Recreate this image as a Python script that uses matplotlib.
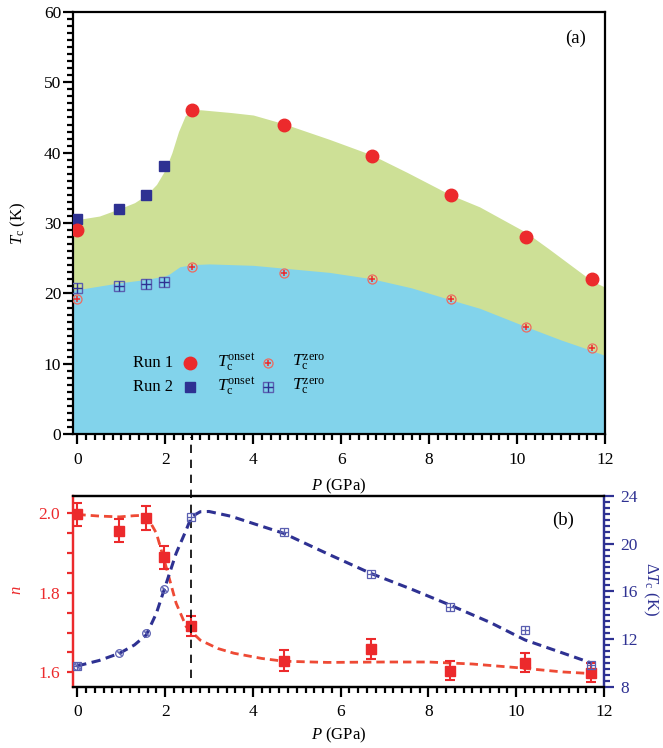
import matplotlib
matplotlib.use("Agg")
import matplotlib.pyplot as plt
from matplotlib.ticker import MultipleLocator, FormatStrFormatter


# --- data ---
P_run1 = [0.0, 2.6, 4.7, 6.7, 8.5, 10.2, 11.7]
Tonset_run1 = [29.0, 46.1, 44.0, 39.6, 34.0, 28.0, 22.0]
Tzero_run1 = [19.2, 23.7, 22.9, 22.0, 19.2, 15.2, 12.2]

P_run2 = [0.0, 0.94, 1.57, 1.98]
Tonset_run2 = [30.6, 32.0, 34.0, 38.1]
Tzero_run2 = [20.8, 21.1, 21.4, 21.7]

# shaded phase boundaries (onset / zero)
P_onset_edge = [-0.1, 0.5, 0.94, 1.3, 1.57, 1.8, 2.0, 2.15, 2.3, 2.45, 2.6, 2.8,
                3.5, 4.0, 4.7, 5.73, 6.69, 7.5, 8.49, 9.15, 10.2, 10.71, 11.7, 12.0]
T_onset_edge = [30.4, 31.0, 32.0, 32.9, 34.0, 35.5, 37.6, 40.0, 43.0, 45.2, 46.0, 46.1,
                45.7, 45.35, 44.1, 41.9, 39.7, 37.2, 34.0, 32.3, 28.7, 26.4, 21.8, 20.9]
P_zero_edge = [-0.1, 0.94, 1.57, 2.0, 2.1, 2.33, 2.6, 3.0, 4.0, 4.69, 5.73, 6.69,
               7.6, 8.49, 9.15, 10.2, 11.0, 11.7, 12.0]
T_zero_edge = [20.45, 21.5, 22.0, 22.5, 22.8, 23.8, 24.1, 24.2, 24.0, 23.6, 23.0, 22.1,
               20.8, 19.1, 17.9, 15.3, 13.4, 11.9, 11.2]

# panel (b)
P_n = [0.0, 0.94, 1.57, 1.98, 2.6, 4.7, 6.7, 8.5, 10.2, 11.7]
n_vals = [1.997, 1.956, 1.989, 1.890, 1.717, 1.629, 1.659, 1.604, 1.624, 1.599]
n_err = [0.029, 0.029, 0.030, 0.029, 0.025, 0.026, 0.026, 0.024, 0.024, 0.024]

dT_run1 = [9.76, 22.26, 20.95, 17.43, 14.71, 12.76, 9.8]
dT_run2 = [9.76, 10.83, 12.48, 16.17]

P_nfit = [0.0, 0.5, 0.96, 1.3, 1.57, 1.8, 2.0, 2.25, 2.48, 2.8, 3.2, 3.57, 4.2, 4.7,
          5.7, 7.0, 8.0, 9.0, 10.0, 11.06, 11.7]
n_fit = [1.997, 1.993, 1.991, 1.994, 1.995, 1.95, 1.874, 1.774, 1.715, 1.681, 1.66,
         1.648, 1.635, 1.628, 1.625, 1.626, 1.626, 1.621, 1.612, 1.601, 1.597]

P_dTfit = [0.0, 0.5, 0.96, 1.3, 1.57, 1.8, 2.0, 2.25, 2.48, 2.6, 2.8, 3.0, 3.5, 4.0,
           4.7, 5.73, 6.69, 7.6, 8.49, 9.4, 10.2, 11.0, 11.7]
dT_fit = [9.74, 10.2, 10.8, 11.5, 12.34, 14.16, 16.39, 19.19, 21.15, 22.26, 22.68,
          22.7, 22.3, 21.7, 20.87, 19.1, 17.5, 16.2, 14.85, 13.4, 11.92, 10.9, 10.0]

P_TRANSITION = 2.6

RED = "#ec2a2c"
RED_LIGHT = "#ee6a5e"
RED_FIT = "#ee4a35"
NAVY = "#2e3192"
NAVY_LIGHT = "#5a5fb0"
GREEN = "#cde096"
SKY = "#82d3eb"

plt.rcParams["font.family"] = "serif"
plt.rcParams["font.serif"] = ["Liberation Serif", "DejaVu Serif"]
plt.rcParams["mathtext.fontset"] = "custom"
plt.rcParams["mathtext.rm"] = "Liberation Serif"
plt.rcParams["mathtext.it"] = "Liberation Serif:italic"
plt.rcParams["font.size"] = 12
plt.rcParams["xtick.labelsize"] = 12.5
plt.rcParams["ytick.labelsize"] = 12.5


def zero_marker_circle(ax, x, y, ms=6.5, **kw):
    ax.plot(x, y, "o", ms=ms, mfc="none", mec=RED_LIGHT, mew=0.9, ls="none", **kw)
    ax.plot(x, y, "+", ms=ms * 0.7, mec=RED, mew=1.1, ls="none", **kw)


def zero_marker_square(ax, x, y, ms=7.0, **kw):
    ax.plot(x, y, "s", ms=ms, mfc="none", mec=NAVY_LIGHT, mew=1.0, ls="none", **kw)
    ax.plot(x, y, "+", ms=ms, mec=NAVY, mew=1.0, ls="none", **kw)


fig = plt.figure(figsize=(6.63, 7.48), dpi=100)

# ---------------- panel (a) ----------------
ax1 = fig.add_axes([0.1101, 0.4194, 0.8024, 0.5647])
ax1.fill_between(P_onset_edge, 0, T_onset_edge, color=GREEN, lw=0, zorder=1)
ax1.fill_between(P_zero_edge, 0, T_zero_edge, color=SKY, lw=0, zorder=2)

zero_marker_square(ax1, P_run2, Tzero_run2, zorder=4)
zero_marker_circle(ax1, P_run1, Tzero_run1, zorder=4)
ax1.plot(P_run2, Tonset_run2, "s", ms=7.5, color=NAVY, ls="none", zorder=5)
ax1.plot(P_run1, Tonset_run1, "o", ms=9, color=RED, ls="none", zorder=5)

ax1.set_xlim(-0.1, 12)
ax1.set_ylim(0, 60)
ax1.xaxis.set_major_locator(MultipleLocator(2))
ax1.xaxis.set_minor_locator(MultipleLocator(0.2))
ax1.yaxis.set_major_locator(MultipleLocator(10))
ax1.yaxis.set_minor_locator(MultipleLocator(1))
ax1.tick_params(which="both", direction="out", width=1.6, top=False, right=False)
ax1.tick_params(which="major", length=7.5)
ax1.tick_params(which="minor", length=4.5)
ax1.tick_params(axis="y", pad=1)
ax1.tick_params(axis="x", pad=5)
for s in ax1.spines.values():
    s.set_linewidth(1.6)
ax1.set_xlabel("$P$ (GPa)")
ax1.xaxis.set_label_coords(0.5, -0.1)
ax1.set_ylabel("$T_\\mathrm{c}$ (K)")
ax1.yaxis.set_label_coords(-0.085, 0.5)
ax1.text(0.944, 0.938, "(a)", transform=ax1.transAxes, ha="center", va="center", fontsize=13.5)

# hand-built legend
tr = ax1.transAxes
for row_y, run, onset_kw, zero_fn in [
    (0.1696, "Run 1", dict(marker="o", ms=9, color=RED), zero_marker_circle),
    (0.1127, "Run 2", dict(marker="s", ms=7.5, color=NAVY), zero_marker_square),
]:
    ax1.text(0.112, row_y, run, transform=tr, ha="left", va="center", fontsize=12, zorder=6)
    ax1.plot([0.22], [row_y], ls="none", transform=tr, zorder=6, **onset_kw)
    ax1.text(0.270, row_y, "$T_\\mathrm{c}^\\mathrm{onset}$", transform=tr,
             ha="left", va="center", fontsize=12.5, zorder=6)
    zero_fn(ax1, [0.367], [row_y], transform=tr, zorder=6)
    ax1.text(0.411, row_y, "$T_\\mathrm{c}^\\mathrm{zero}$", transform=tr,
             ha="left", va="center", fontsize=12.5, zorder=6)

# ---------------- panel (b) ----------------
ax2 = fig.add_axes([0.1101, 0.0820, 0.8009, 0.2549])
ax3 = ax2.twinx()

ax2.plot(P_nfit, n_fit, color=RED_FIT, lw=2.0, ls=(0, (3, 1.8)), zorder=2)
ax2.errorbar(P_n, n_vals, yerr=n_err, fmt="s", ms=6.5, color=RED, ecolor=RED,
             elinewidth=1.5, capsize=3.5, capthick=1.5, zorder=3)

ax3.plot(P_dTfit, dT_fit, color=NAVY, lw=2.2, ls=(0, (3, 1.8)), zorder=2)
ax3.plot(P_run2, dT_run2, "o", ms=5.5, mfc="none", mec=NAVY_LIGHT, mew=0.9, ls="none", zorder=3)
ax3.plot(P_run2, dT_run2, marker=(2, 2, 45), ms=4, mec=NAVY_LIGHT, mew=0.8, ls="none", zorder=3)
ax3.plot(P_run1, dT_run1, "s", ms=5.5, mfc="none", mec=NAVY_LIGHT, mew=0.9, ls="none", zorder=3)
ax3.plot(P_run1, dT_run1, "+", ms=5.5, mec=NAVY_LIGHT, mew=0.9, ls="none", zorder=3)

ax2.plot([P_TRANSITION, P_TRANSITION], [1.587, 2.192], color="black", lw=1.2,
         ls=(0, (5, 4)), clip_on=False, zorder=4)

ax2.set_xlim(-0.1, 12)
ax2.set_ylim(1.564, 2.0435)
ax3.set_ylim(8, 24)

ax2.xaxis.set_major_locator(MultipleLocator(2))
ax2.xaxis.set_minor_locator(MultipleLocator(0.2))
ax2.yaxis.set_major_locator(MultipleLocator(0.2))
ax2.yaxis.set_minor_locator(MultipleLocator(0.05))
ax2.yaxis.set_major_formatter(FormatStrFormatter("%.1f"))
ax3.yaxis.set_major_locator(MultipleLocator(4))
ax3.yaxis.set_minor_locator(MultipleLocator(0.5))

ax2.tick_params(axis="x", which="both", direction="out", width=1.6, pad=5)
ax2.tick_params(axis="x", which="major", length=7.5)
ax2.tick_params(axis="x", which="minor", length=4.5)
ax2.tick_params(axis="y", which="both", direction="out", width=1.6, length=4.5,
                color=RED, labelcolor=RED, pad=5)
ax3.tick_params(axis="y", which="both", direction="out", width=1.6, color=NAVY,
                labelcolor=NAVY, pad=5)
ax3.tick_params(axis="y", which="major", length=7)
ax3.tick_params(axis="y", which="minor", length=4.5)

for s in ax2.spines.values():
    s.set_linewidth(1.6)
for s in ax3.spines.values():
    s.set_linewidth(1.6)
ax3.spines["left"].set_color(RED)
ax3.spines["right"].set_color(NAVY)
ax2.spines["left"].set_color(RED)
ax2.spines["right"].set_color(NAVY)

ax2.set_xlabel("$P$ (GPa)")
ax2.xaxis.set_label_coords(0.5, -0.205)
ax2.set_ylabel("$n$", color=RED)
ax2.yaxis.set_label_coords(-0.09, 0.507)
ax3.set_ylabel("$\\Delta T_\\mathrm{c}$ (K)", color=NAVY, rotation=270, va="center")
ax3.yaxis.set_label_coords(1.087, 0.51)
ax3.text(0.923, 0.874, "(b)", transform=ax3.transAxes, ha="center", va="center", fontsize=13.5)

fig.savefig("out.png", dpi=100)
